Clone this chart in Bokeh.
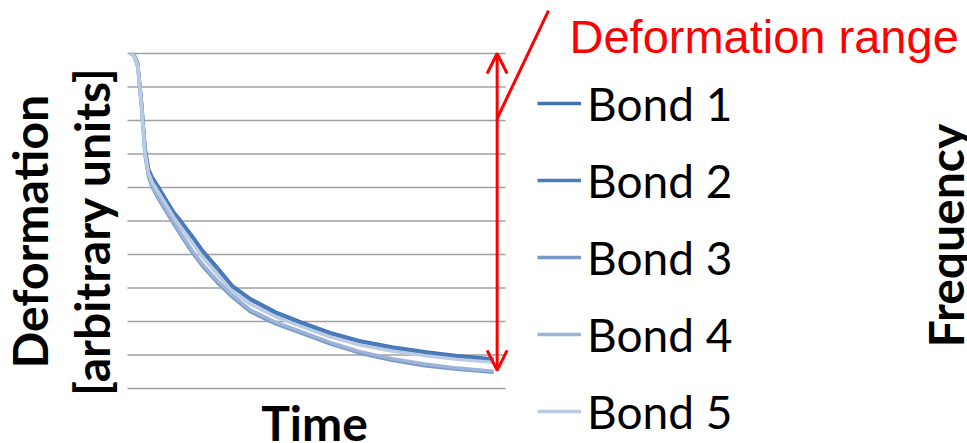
import math
from bokeh.plotting import figure
from bokeh.models import (Range1d, Legend, LegendItem, Label,
                          Arrow, OpenHead, ColumnDataSource)
from bokeh.embed import file_html
from bokeh.resources import INLINE

# ---------------- data ----------------
time = [0, 1, 2, 3, 4, 5, 6, 8, 10, 12, 14, 17, 20, 24, 28, 33, 40, 47, 55, 63, 72, 81, 90, 100]
bond1 = [10.0, 9.95, 9.7, 8.6, 7.2, 6.55, 6.3, 5.97, 5.6, 5.25, 4.98, 4.55, 4.1, 3.6, 3.07, 2.68, 2.28, 1.98, 1.67, 1.43, 1.24, 1.1, 0.98, 0.88]
bond2 = [10.0, 9.95, 9.68, 8.55, 7.15, 6.5, 6.26, 5.93, 5.56, 5.21, 4.94, 4.51, 4.06, 3.56, 3.04, 2.65, 2.25, 1.95, 1.64, 1.4, 1.21, 1.07, 0.95, 0.85]
bond3 = [10.0, 9.93, 9.6, 8.4, 6.95, 6.3, 6.0, 5.6, 5.25, 4.9, 4.55, 4.06, 3.63, 3.15, 2.73, 2.29, 1.93, 1.65, 1.33, 1.06, 0.84, 0.68, 0.57, 0.48]
bond4 = [10.0, 9.93, 9.62, 8.45, 7.0, 6.35, 6.05, 5.66, 5.31, 4.96, 4.61, 4.12, 3.69, 3.21, 2.79, 2.35, 1.98, 1.7, 1.38, 1.11, 0.89, 0.73, 0.61, 0.52]
bond5 = [10.0, 9.94, 9.65, 8.5, 7.05, 6.42, 6.15, 5.8, 5.45, 5.1, 4.8, 4.35, 3.9, 3.4, 2.9, 2.52, 2.14, 1.85, 1.54, 1.3, 1.12, 0.98, 0.87, 0.78]
series_names = ["Bond 1", "Bond 2", "Bond 3", "Bond 4", "Bond 5"]
series_values = [bond1, bond2, bond3, bond4, bond5]
series_colors = ["#4472b0", "#4a7cbc", "#7799c8", "#9db3d8", "#bccbe4"]
y_ticks = [0, 1, 2, 3, 4, 5, 6, 7, 8, 9, 10]
plot_time_start = -0.83
plot_time_end = 103.3
range_bottom = 0.54
range_top = 10.0
range_time = 101

# ---------------- figure ----------------
p = figure(width=967, height=443, output_backend="svg", toolbar_location=None,
           x_axis_location=None, y_axis_location=None,
           x_range=Range1d(-35.815, 230.57), y_range=Range1d(-1.6418, 11.582),
           min_border_left=0, min_border_right=0,
           min_border_top=0, min_border_bottom=0)
p.outline_line_color = None
p.background_fill_color = "white"
p.border_fill_color = "white"
for g in p.grid:
    g.visible = False

# horizontal gridlines of the plot area
p.segment(x0=[plot_time_start] * len(y_ticks), x1=[plot_time_end] * len(y_ticks),
          y0=y_ticks, y1=y_ticks, line_color="#a0a0a0", line_width=1.3)

items = []
for name, vals, col in zip(series_names, series_values, series_colors):
    src = ColumnDataSource(dict(t=time, v=vals))
    r = p.line("t", "v", source=src, line_color=col, line_width=3.4,
               line_join="round")
    items.append(LegendItem(label=name, renderers=[r]))

legend = Legend(items=items, location=(537, 4),
                glyph_width=44, glyph_height=56, label_height=56,
                label_standoff=6, spacing=21, padding=0, margin=0,
                label_text_font="Lato", label_text_font_size="46px",
                label_text_color="black",
                border_line_color=None, background_fill_alpha=0)
p.add_layout(legend, "center")

# red range arrow and pointer line
p.add_layout(Arrow(start=OpenHead(size=20, line_color="red", line_width=3),
                   end=OpenHead(size=20, line_color="red", line_width=3),
                   x_start=range_time, y_start=range_bottom,
                   x_end=range_time, y_end=range_top,
                   line_color="red", line_width=3))
p.add_layout(Arrow(end=None, x_start=range_time, y_start=8.06,
                   x_end=115.15, y_end=11.28, line_color="red", line_width=3))

p.add_layout(Label(x=569, y=407, x_units="screen", y_units="screen",
                   text="Deformation range", text_color="red",
                   text_font="Liberation Sans", text_font_size="47px",
                   text_baseline="alphabetic", text_align="left"))

# axis titles
bold = dict(text_font="Lato", text_font_style="bold", text_font_size="48px",
            text_color="black")
p.add_layout(Label(x=29, y=212, x_units="screen", y_units="screen",
                   text="Deformation", angle=math.pi / 2,
                   text_align="center", text_baseline="middle", **bold))
p.add_layout(Label(x=91, y=212, x_units="screen", y_units="screen",
                   text="[arbitrary units]", angle=math.pi / 2,
                   text_align="center", text_baseline="middle", **bold))
p.add_layout(Label(x=314, y=21, x_units="screen", y_units="screen",
                   text="Time", text_align="center", text_baseline="alphabetic",
                   **bold))
p.add_layout(Label(x=945, y=208, x_units="screen", y_units="screen",
                   text="Frequency", angle=math.pi / 2,
                   text_align="center", text_baseline="alphabetic", **bold))

open("out.html", "w").write(file_html(p, INLINE))
